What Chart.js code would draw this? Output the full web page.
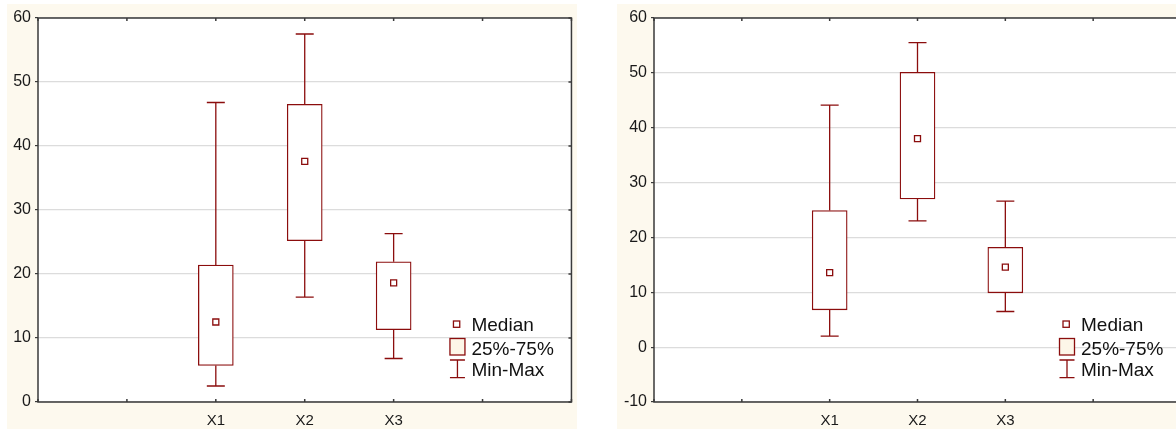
<!DOCTYPE html>
<html><head><meta charset="utf-8">
<script src="https://cdn.jsdelivr.net/npm/chart.js@4.4.1/dist/chart.umd.min.js"></script>
<style>
html,body{margin:0;padding:0;background:#fff;width:1176px;height:430px;overflow:hidden;position:relative;}
.panel{position:absolute;top:4px;width:570px;height:425px;background:#fdf9ee;}
#p1{left:7px;}
#p2{left:617px;}
canvas{display:block;}
</style></head><body>
<div class="panel" id="p1"><canvas id="c1" width="570" height="425"></canvas></div>
<div class="panel" id="p2"><canvas id="c2" width="570" height="425"></canvas></div>
<script>
// ---- data ----
const categories = ['X1', 'X2', 'X3'];
const xTickLabels = ['', '', 'X1', 'X2', 'X3', '', ''];

const leftMin    = [2.5, 16.4, 6.8];
const leftQ1     = [5.7, 25.2, 11.3];
const leftMedian = [12.5, 37.6, 18.6];
const leftQ3     = [21.4, 46.5, 21.9];
const leftMax    = [46.8, 57.5, 26.3];

const rightMin    = [2.0, 23.0, 6.5];
const rightQ1     = [6.8, 27.0, 9.9];
const rightMedian = [13.6, 38.0, 14.6];
const rightQ3     = [24.9, 50.1, 18.2];
const rightMax    = [44.1, 55.5, 26.6];

const leftYRange  = [0, 60];
const rightYRange = [-10, 60];
const yStep = 10;

const legendLabels = ['Median', '25%-75%', 'Min-Max'];

// ---- styling ----
const RED = '#8b0d0d';
const FRAME = '#3a3a3a';
const FONT = 'Liberation Sans, Arial, sans-serif';

function build(id, s, yRange, yWidth, padRight) {
  const idxs = xTickLabels.map(l => categories.indexOf(l));
  const boxes = idxs.map(i => i < 0 ? null : [s.q1[i], s.q3[i]]);
  const meds = idxs.map(i => i < 0 ? null : s.med[i]);

  const extras = {
    id: 'boxExtras',
    beforeDraw(chart) {
      const {ctx, chartArea: a} = chart;
      ctx.save();
      ctx.fillStyle = '#ffffff';
      ctx.fillRect(a.left, a.top, a.right - a.left, a.bottom - a.top);
      ctx.restore();
    },
    beforeDatasetsDraw(chart) {
      const {ctx} = chart;
      const xs = chart.scales.x, ys = chart.scales.y;
      ctx.save();
      ctx.strokeStyle = RED;
      ctx.lineWidth = 1.3;
      idxs.forEach((i, k) => {
        if (i < 0) return;
        const x = xs.getPixelForTick(k);
        const yMin = ys.getPixelForValue(s.min[i]);
        const yMax = ys.getPixelForValue(s.max[i]);
        const yQ1 = ys.getPixelForValue(s.q1[i]);
        const yQ3 = ys.getPixelForValue(s.q3[i]);
        ctx.beginPath();
        ctx.moveTo(x, yMin); ctx.lineTo(x, yQ1);
        ctx.moveTo(x, yQ3); ctx.lineTo(x, yMax);
        ctx.moveTo(x - 9, yMin); ctx.lineTo(x + 9, yMin);
        ctx.moveTo(x - 9, yMax); ctx.lineTo(x + 9, yMax);
        ctx.stroke();
      });
      ctx.restore();
    },
    afterDraw(chart) {
      const {ctx, chartArea: a} = chart;
      const xs = chart.scales.x, ys = chart.scales.y;
      ctx.save();
      // frame
      ctx.strokeStyle = FRAME;
      ctx.lineWidth = 1.5;
      ctx.strokeRect(a.left, a.top, a.right - a.left, a.bottom - a.top);
      ctx.beginPath();
      xTickLabels.forEach((l, k) => {
        const x = xs.getPixelForTick(k);
        ctx.moveTo(x, a.top); ctx.lineTo(x, a.top + 3);
        ctx.moveTo(x, a.bottom); ctx.lineTo(x, a.bottom - 3);
      });
      ys.ticks.forEach((t, k) => {
        const y = ys.getPixelForTick(k);
        ctx.moveTo(a.right, y); ctx.lineTo(a.right - 3, y);
      });
      ctx.stroke();

      // legend
      const R = a.right, B = a.bottom;
      ctx.strokeStyle = RED;
      ctx.lineWidth = 1.3;
      // median marker
      ctx.fillStyle = '#fff';
      ctx.fillRect(R - 118, B - 81, 6.3, 6.3);
      ctx.strokeRect(R - 118, B - 81, 6.3, 6.3);
      // box icon
      ctx.fillStyle = '#fdf6e8';
      ctx.fillRect(R - 121.5, B - 63.5, 15, 16.5);
      ctx.strokeRect(R - 121.5, B - 63.5, 15, 16.5);
      // whisker icon
      ctx.beginPath();
      ctx.moveTo(R - 121.5, B - 42); ctx.lineTo(R - 106.5, B - 42);
      ctx.moveTo(R - 114, B - 42); ctx.lineTo(R - 114, B - 24.3);
      ctx.moveTo(R - 121.5, B - 24.3); ctx.lineTo(R - 106.5, B - 24.3);
      ctx.stroke();
      ctx.fillStyle = '#111';
      ctx.font = '19px ' + FONT;
      ctx.textBaseline = 'alphabetic';
      ctx.textAlign = 'left';
      const ty = [B - 71.3, B - 47, B - 26.3];
      legendLabels.forEach((t, k) => ctx.fillText(t, R - 100, ty[k]));
      ctx.restore();
    }
  };

  return new Chart(document.getElementById(id), {
    type: 'bar',
    data: {
      labels: xTickLabels,
      datasets: [
        {
          type: 'bar',
          label: legendLabels[1],
          data: boxes,
          backgroundColor: '#ffffff',
          borderColor: RED,
          borderWidth: 1.3,
          borderSkipped: false,
          barThickness: 35,
          order: 2
        },
        {
          type: 'line',
          label: legendLabels[0],
          data: meds,
          showLine: false,
          pointStyle: 'rect',
          pointRadius: 4.25,
          pointBackgroundColor: '#ffffff',
          pointBorderColor: RED,
          pointBorderWidth: 1.3,
          order: 1
        }
      ]
    },
    options: {
      responsive: false,
      devicePixelRatio: 1,
      animation: false,
      events: [],
      layout: {padding: {left: 0, top: 14, right: padRight, bottom: 0}},
      plugins: {legend: {display: false}, tooltip: {enabled: false}},
      scales: {
        x: {
          type: 'category',
          offset: false,
          grid: {display: false, drawTicks: false},
          border: {display: false},
          ticks: {autoSkip: false, maxRotation: 0, padding: 10, color: '#1a1a1a', font: {family: FONT, size: 15}},
          afterFit: sc => { sc.height = 27; sc.paddingLeft = 0; sc.paddingRight = 0; }
        },
        y: {
          type: 'linear',
          min: yRange[0],
          max: yRange[1],
          grid: {color: '#dcdcdc', lineWidth: 1.2, drawTicks: true, tickLength: 3, tickColor: FRAME},
          border: {display: false},
          ticks: {stepSize: yStep, padding: 4, color: '#1a1a1a', font: {family: FONT, size: 16}},
          afterFit: sc => { sc.width = yWidth; sc.paddingTop = 0; sc.paddingBottom = 0; }
        }
      }
    },
    plugins: [extras]
  });
}

build('c1', {min: leftMin, q1: leftQ1, med: leftMedian, q3: leftQ3, max: leftMax}, leftYRange, 31, 5.5);
build('c2', {min: rightMin, q1: rightQ1, med: rightMedian, q3: rightQ3, max: rightMax}, rightYRange, 37, 6);
</script>
</body></html>
